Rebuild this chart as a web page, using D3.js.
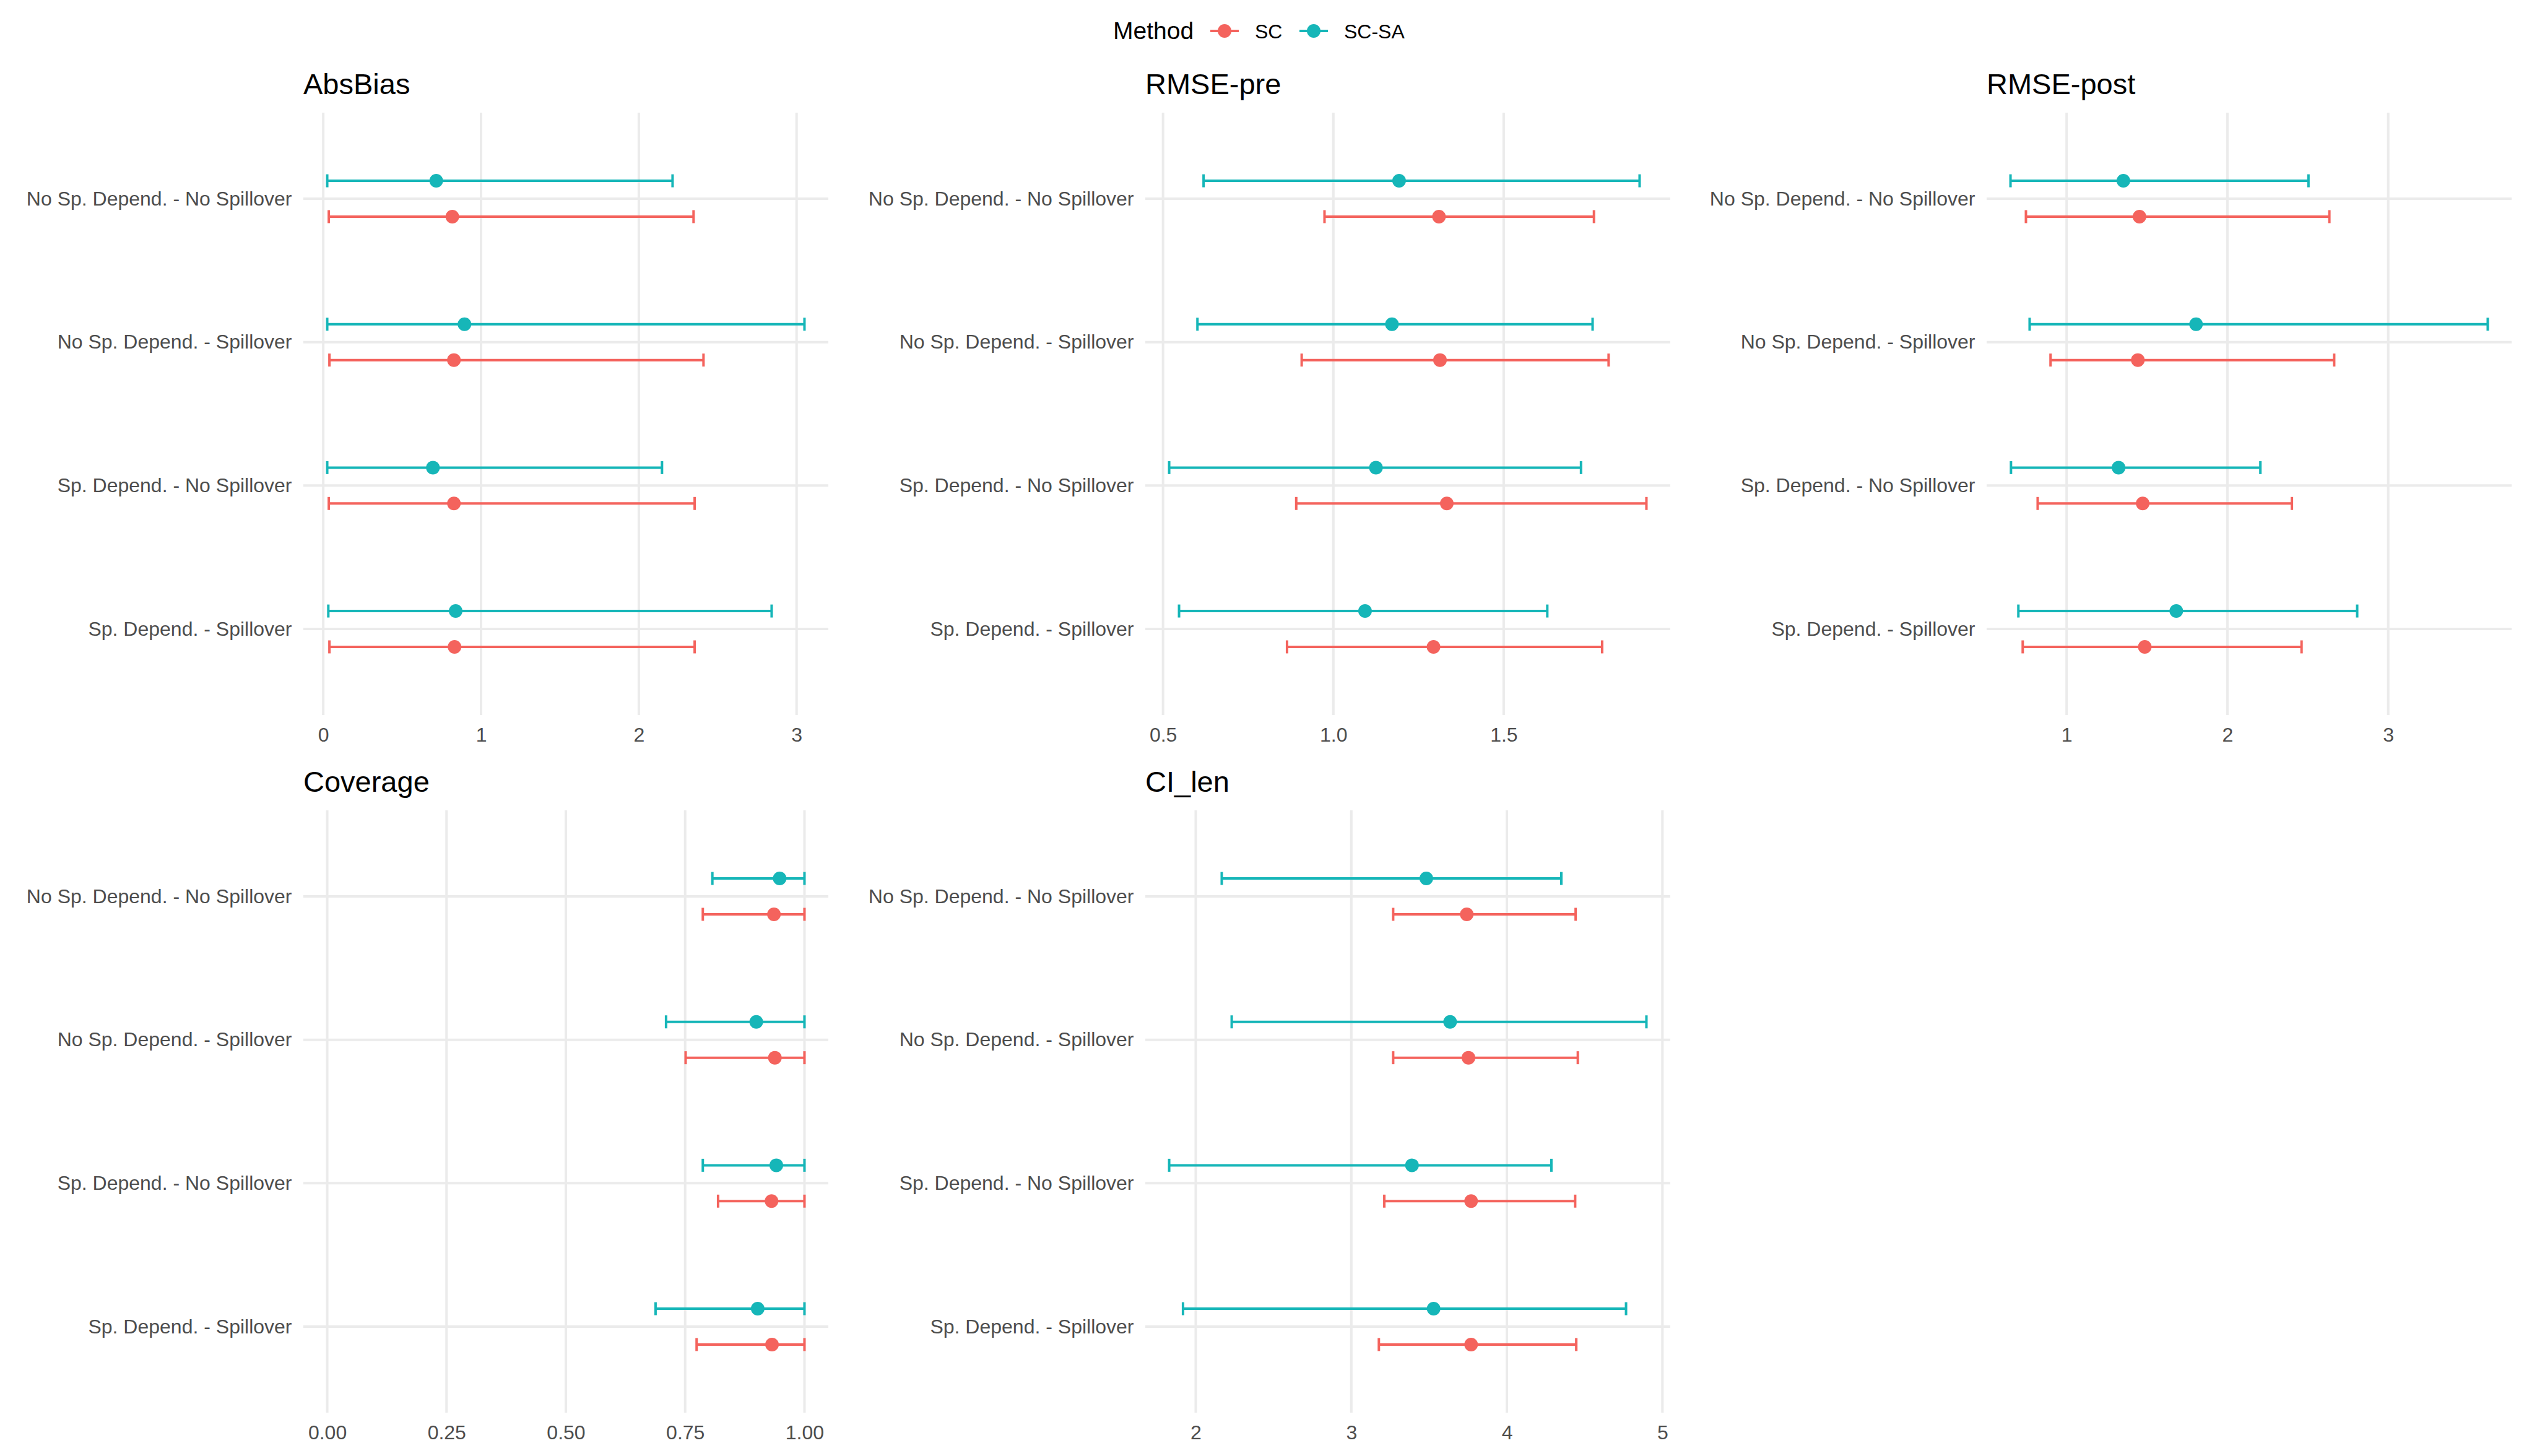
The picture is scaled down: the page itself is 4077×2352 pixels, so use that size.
<!DOCTYPE html>
<html>
<head>
<meta charset="utf-8">
<style>

body{margin:0;background:#fff;}
svg{display:block;font-family:"Liberation Sans",Arial,sans-serif;}
.grid line{stroke:#ebebeb;stroke-width:4;}
.axis text{fill:#4d4d4d;font-size:32px;font-family:"Liberation Sans",Arial,sans-serif;}
.axis path{display:none;}
.title{font-size:47px;fill:#000;}
.legtitle{font-size:39px;fill:#000;}
.legtext{font-size:32px;fill:#000;}

</style>
</head>
<body>
<svg id="chart"></svg>

<script src="https://cdn.jsdelivr.net/npm/d3@7"></script>
<script>

// scenarios, top to bottom
var scenarios = [
  "No Sp. Depend. - No Spillover",
  "No Sp. Depend. - Spillover",
  "Sp. Depend. - No Spillover",
  "Sp. Depend. - Spillover"
];
var methods = ["SC", "SC-SA"];
var metrics = ["AbsBias", "RMSE-pre", "RMSE-post", "Coverage", "CI_len"];

// [lower, estimate, upper] per scenario
var absBiasSC   = [[0.035, 0.818, 2.347], [0.039, 0.828, 2.410], [0.035, 0.828, 2.354], [0.039, 0.832, 2.354]];
var absBiasSCSA = [[0.025, 0.716, 2.214], [0.025, 0.895, 3.050], [0.025, 0.695, 2.147], [0.032, 0.839, 2.842]];

var rmsePreSC   = [[0.974, 1.310, 1.765], [0.907, 1.313, 1.808], [0.891, 1.333, 1.919], [0.864, 1.294, 1.789]];
var rmsePreSCSA = [[0.619, 1.193, 1.899], [0.601, 1.172, 1.761], [0.518, 1.125, 1.727], [0.547, 1.093, 1.628]];

var rmsePostSC   = [[0.747, 1.453, 2.634], [0.900, 1.443, 2.664], [0.820, 1.473, 2.401], [0.727, 1.486, 2.461]];
var rmsePostSCSA = [[0.651, 1.353, 2.504], [0.770, 1.805, 3.619], [0.654, 1.323, 2.205], [0.700, 1.682, 2.807]];

var coverageSC   = [[0.787, 0.936, 1.000], [0.751, 0.938, 1.000], [0.819, 0.931, 1.000], [0.774, 0.932, 1.000]];
var coverageSCSA = [[0.807, 0.948, 1.000], [0.710, 0.899, 1.000], [0.787, 0.941, 1.000], [0.688, 0.902, 1.000]];

var ciLenSC   = [[3.269, 3.742, 4.442], [3.269, 3.753, 4.456], [3.212, 3.770, 4.439], [3.177, 3.770, 4.446]];
var ciLenSCSA = [[2.167, 3.482, 4.350], [2.231, 3.635, 4.897], [1.829, 3.390, 4.286], [1.918, 3.529, 4.766]];

// tick labels per panel
var absBiasTicks  = [0, 1, 2, 3];
var rmsePreTicks  = [0.5, 1.0, 1.5];
var rmsePostTicks = [1, 2, 3];
var coverageTicks = [0, 0.25, 0.5, 0.75, 1];
var ciLenTicks    = [2, 3, 4, 5];

var coverageLimits = [0, 1];


var colors = {"SC": "#f4635d", "SC-SA": "#16b6b8"};

var W = 4077, H = 2352;
var colX = [490, 1850, 3209];
var rowY = [182, 1309];
var pw = 848, ph = 973;

var svg = d3.select("#chart").attr("width", W).attr("height", H);
svg.append("rect").attr("width", W).attr("height", H).attr("fill", "#fff");

var panels = [
  {name: metrics[0], sc: absBiasSC,   sa: absBiasSCSA,   ticks: absBiasTicks,  fmt: d3.format("d")},
  {name: metrics[1], sc: rmsePreSC,   sa: rmsePreSCSA,   ticks: rmsePreTicks,  fmt: d3.format(".1f")},
  {name: metrics[2], sc: rmsePostSC,  sa: rmsePostSCSA,  ticks: rmsePostTicks, fmt: d3.format("d")},
  {name: metrics[3], sc: coverageSC,  sa: coverageSCSA,  ticks: coverageTicks, fmt: d3.format(".2f"), limits: coverageLimits},
  {name: metrics[4], sc: ciLenSC,     sa: ciLenSCSA,     ticks: ciLenTicks,    fmt: d3.format("d")}
];

function buildPanel(p, i){
    var g = svg.append("g")
      .attr("transform", "translate(" + colX[i % 3] + "," + rowY[Math.floor(i / 3)] + ")");

    var all = p.sc.concat(p.sa);
    var lo = d3.min(all, function(d){ return d[0]; });
    var hi = d3.max(all, function(d){ return d[2]; });
    if(p.limits){ lo = Math.min(lo, p.limits[0]); hi = Math.max(hi, p.limits[1]); }
    var pad = (hi - lo) * 0.05;

    var x = d3.scaleLinear().domain([lo - pad, hi + pad]).range([0, pw]);
    var y = d3.scalePoint().domain(scenarios).range([0, ph]).padding(0.6);
    var dodge = y.step() * 0.125;

    // gridlines
    var grid = g.append("g").attr("class", "grid");
    grid.selectAll(".vx")
      .data(p.ticks)
      .enter().append("line")
      .attr("x1", function(d){ return x(d); })
      .attr("x2", function(d){ return x(d); })
      .attr("y1", 0).attr("y2", ph);
    grid.selectAll(".hy")
      .data(scenarios)
      .enter().append("line")
      .attr("x1", 0).attr("x2", pw)
      .attr("y1", function(d){ return y(d); })
      .attr("y2", function(d){ return y(d); });

    // axes
    g.append("g")
      .attr("class", "axis")
      .attr("transform", "translate(0," + ph + ")")
      .call(d3.axisBottom(x).tickValues(p.ticks).tickFormat(p.fmt).tickSize(0).tickPadding(20))
      .attr("font-size", null).attr("font-family", null);

    g.append("g")
      .attr("class", "axis")
      .call(d3.axisLeft(y).tickSize(0).tickPadding(18.5))
      .attr("font-size", null).attr("font-family", null);

    // rows: SC below, SC-SA above
    var rows = [];
    scenarios.forEach(function(s, k){
        rows.push({scen: s, method: methods[0], v: p.sc[k], off: dodge});
        rows.push({scen: s, method: methods[1], v: p.sa[k], off: -dodge});
    });

    var bars = g.selectAll(".bar")
      .data(rows)
      .enter().append("g")
      .attr("transform", function(d){ return "translate(0," + (y(d.scen) + d.off) + ")"; })
      .attr("stroke", function(d){ return colors[d.method]; })
      .attr("stroke-width", 4);

    bars.append("line")
      .attr("x1", function(d){ return x(d.v[0]); })
      .attr("x2", function(d){ return x(d.v[2]); });
    bars.append("line")
      .attr("x1", function(d){ return x(d.v[0]); })
      .attr("x2", function(d){ return x(d.v[0]); })
      .attr("y1", -10.5).attr("y2", 10.5);
    bars.append("line")
      .attr("x1", function(d){ return x(d.v[2]); })
      .attr("x2", function(d){ return x(d.v[2]); })
      .attr("y1", -10.5).attr("y2", 10.5);

    bars.append("circle")
      .attr("cx", function(d){ return x(d.v[1]); })
      .attr("r", 11)
      .attr("stroke", "none")
      .attr("fill", function(d){ return colors[d.method]; });

    g.append("text")
      .attr("class", "title")
      .attr("x", 0)
      .attr("y", -30)
      .text(p.name);
}

panels.forEach(buildPanel);

// legend
var leg = svg.append("g");
leg.append("text").attr("class", "legtitle").attr("x", 1798).attr("y", 63).text("Method");
var keyX = [1978, 2122];
methods.forEach(function(m, k){
    var cx = keyX[k];
    leg.append("line")
      .attr("x1", cx - 23).attr("x2", cx + 23)
      .attr("y1", 50).attr("y2", 50)
      .attr("stroke", colors[m]).attr("stroke-width", 4);
    leg.append("circle")
      .attr("cx", cx).attr("cy", 50).attr("r", 11)
      .attr("fill", colors[m]);
    leg.append("text").attr("class", "legtext")
      .attr("x", cx + 49).attr("y", 62).text(m);
});

</script>
</body>
</html>
